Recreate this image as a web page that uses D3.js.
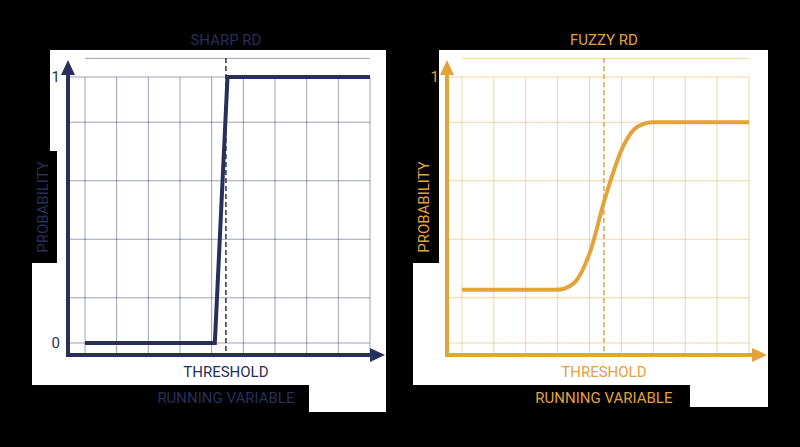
<!DOCTYPE html>
<html>
<head>
<meta charset="utf-8">
<script src="https://d3js.org/d3.v7.min.js"></script>
<style>
  body { margin: 0; background: #000; }
  svg { display: block; }
  text { font-family: Roboto, sans-serif; font-size: 15px; }
</style>
</head>
<body>
<script>
var w = 800, h = 447;

// data
var xTicks = [0, 1, 2, 3, 4, 5, 6, 7, 8, 9];
var yGrid = [0, 0.17, 0.39, 0.61, 0.83, 1];
var threshold = 4.45;
var sharpX = [0, 4.1, 4.5, 9];
var sharpY = [0, 0, 1, 1];
var fuzzyX = [0, 3, 3.5, 4, 4.5, 5.05, 5.5, 6, 9];
var fuzzyY = [0.2, 0.2, 0.224, 0.337, 0.55, 0.738, 0.813, 0.83, 0.83];

var svg = d3.select("body").append("svg").attr("width", w).attr("height", h);

function panel(o) {
  var c = o.color;
  var g = svg.append("g");
  // white card with black label cutouts
  g.append("rect").attr("x", o.left).attr("y", 50).attr("width", o.right - o.left).attr("height", o.bottom2 - 50).attr("fill", "#fff");
  g.append("rect").attr("x", o.left).attr("y", 50).attr("width", o.inner - o.left).attr("height", 101).attr("fill", "#000");
  g.append("rect").attr("x", o.left).attr("y", 151).attr("width", o.inner - o.left + o.boxExtra).attr("height", 112).attr("fill", "#000");
  g.append("rect").attr("x", o.left).attr("y", 385).attr("width", o.cut - o.left).attr("height", o.bottom2 - 385 + 1).attr("fill", "#000");

  var x = d3.scaleLinear().domain([0, 9]).range([o.x0, o.x1]);
  var y = d3.scaleLinear().domain([0, 1]).range([343, 77]);
  var grid = d3.color(c).copy({opacity: 0.45}) + "";

  g.selectAll(".v").data(xTicks).enter().append("line")
    .attr("x1", x).attr("x2", x).attr("y1", 77).attr("y2", 353)
    .attr("stroke", grid).attr("stroke-width", 1);
  g.selectAll(".h").data(yGrid).enter().append("line")
    .attr("x1", o.ax).attr("x2", x(9)).attr("y1", y).attr("y2", y)
    .attr("stroke", grid).attr("stroke-width", 1);
  g.append("line").attr("x1", x(0)).attr("x2", x(9)).attr("y1", y(1.07)).attr("y2", y(1.07))
    .attr("stroke", grid);

  // axes with arrows
  g.append("line").attr("x1", o.ax).attr("x2", o.ax).attr("y1", 356).attr("y2", 72)
    .attr("stroke", c).attr("stroke-width", 4);
  g.append("path").attr("d", "M" + (o.ax - 7) + ",75L" + o.ax + ",60L" + (o.ax + 7) + ",75Z").attr("fill", c);
  g.append("line").attr("x1", o.ax - 2).attr("x2", o.right - 12).attr("y1", 355).attr("y2", 355)
    .attr("stroke", c).attr("stroke-width", 4);
  g.append("path").attr("d", "M" + (o.right - 16) + ",348L" + (o.right - 1) + ",355L" + (o.right - 16) + ",362Z").attr("fill", c);

  // threshold
  g.append("line").attr("x1", x(threshold)).attr("x2", x(threshold)).attr("y1", 58).attr("y2", 355)
    .attr("stroke", c).attr("stroke-width", 1.5).attr("stroke-dasharray", "5,3");

  var pts = o.xs.map(function(v, i) { return [v, o.ys[i]]; });
  g.append("path").datum(pts)
    .attr("d", d3.line().x(function(d) { return x(d[0]); }).y(function(d) { return y(d[1]); }).curve(o.curve))
    .attr("fill", "none").attr("stroke", c).attr("stroke-width", 4);

  g.append("text").attr("x", o.ax - 8).attr("y", y(1) + 5).attr("text-anchor", "end").attr("fill", c).text("1");
  if (o.zero) g.append("text").attr("x", o.ax - 8).attr("y", y(0) + 5).attr("text-anchor", "end").attr("fill", c).text("0");

  var cx = x(threshold);
  g.append("text").attr("x", cx).attr("y", 45).attr("text-anchor", "middle").attr("fill", c).text(o.title);
  g.append("text").attr("x", cx).attr("y", 377).attr("text-anchor", "middle").attr("fill", c).text("THRESHOLD");
  g.append("text").attr("x", cx).attr("y", 403).attr("text-anchor", "middle").attr("fill", c).text("RUNNING VARIABLE");
  g.append("text").attr("transform", "translate(" + (o.left + 16) + ",207) rotate(-90)")
    .attr("text-anchor", "middle").attr("fill", c).text("PROBABILITY");
}

panel({ color: "#272f5a", title: "SHARP RD", left: 32, inner: 50, boxExtra: 7, right: 386, cut: 309, bottom2: 412,
  x0: 85, x1: 370, ax: 68, xs: sharpX, ys: sharpY, curve: d3.curveLinear, zero: true });
panel({ color: "#e3a23a", title: "FUZZY RD", left: 413, inner: 439, boxExtra: 0, right: 768, cut: 690, bottom2: 407,
  x0: 462, x1: 749, ax: 447, xs: fuzzyX, ys: fuzzyY, curve: d3.curveMonotoneX, zero: false });
</script>
</body>
</html>
